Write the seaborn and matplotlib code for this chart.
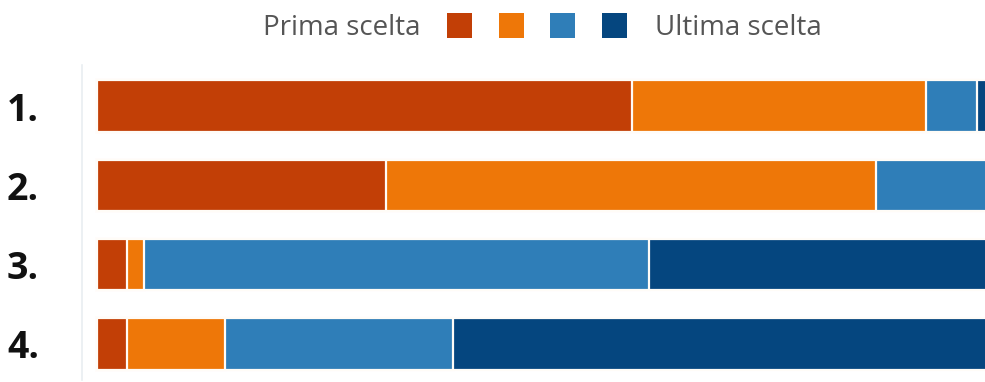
import numpy as np
import pandas as pd
import seaborn as sns
import matplotlib.pyplot as plt
from matplotlib.patches import Rectangle

# Ranking rows and share (%) of answers for each choice position
ranks = ["1.", "2.", "3.", "4."]
prima = [59.2, 32.0, 3.3, 3.3]
seconda = [32.6, 54.3, 1.9, 10.9]
terza = [5.6, 13.7, 55.9, 25.2]
ultima = [2.6, 0.0, 38.9, 60.6]
legend_left = "Prima scelta"
legend_right = "Ultima scelta"
colors = ["#C23F06", "#EE7708", "#2F7EB8", "#05467F"]

sns.set_theme(style="white")
plt.rcParams["font.family"] = ["Open Sans", "DejaVu Sans"]

df = pd.DataFrame({"rank": ranks, "prima": prima, "seconda": seconda,
                   "terza": terza, "ultima": ultima})
layers = ["prima", "seconda", "terza", "ultima"]
cum = df[layers].cumsum(axis=1)

W, H = 985, 382
fig = plt.figure(figsize=(W / 100, H / 100), dpi=100)
ax = fig.add_axes([82 / W, 2 / H, (W - 82) / W, 315 / H])

# stacked bars: draw cumulative totals from longest to shortest
for layer, col in reversed(list(zip(layers, colors))):
    sns.barplot(x=cum[layer], y=df["rank"], color=col, width=0.645,
                edgecolor="#FFFCF7", linewidth=1.6, orient="h", ax=ax,
                saturation=1)

px = 9.03  # pixels per percent
ax.set_xlim(-15 / px, (W - 97) / px)
ax.set_ylim(3.454, -0.517)
ax.set_xlabel("")
ax.set_ylabel("")
ax.set_xticks([])
ax.tick_params(axis="y", length=0, pad=31)
for lab in ax.get_yticklabels():
    lab.set_fontsize(27)
    lab.set_fontweight("bold")
    lab.set_color("#111111")
for s in ["top", "right", "bottom"]:
    ax.spines[s].set_visible(False)
ax.spines["left"].set_color("#E9EEF1")
ax.spines["left"].set_linewidth(1.2)

# legend strip across the top
fig.text(263 / W, 1 - 28 / H, legend_left, fontsize=20, color="#555555",
         ha="left", va="center")
fig.text(655 / W, 1 - 28 / H, legend_right, fontsize=20, color="#555555",
         ha="left", va="center")
for i, col in enumerate(colors):
    x0 = 447 + i * 51.7
    fig.patches.append(Rectangle((x0 / W, 1 - 38 / H), 25 / W, 25 / H,
                                 transform=fig.transFigure, facecolor=col,
                                 edgecolor="none"))

fig.savefig("out.png", dpi=100, facecolor="white")
